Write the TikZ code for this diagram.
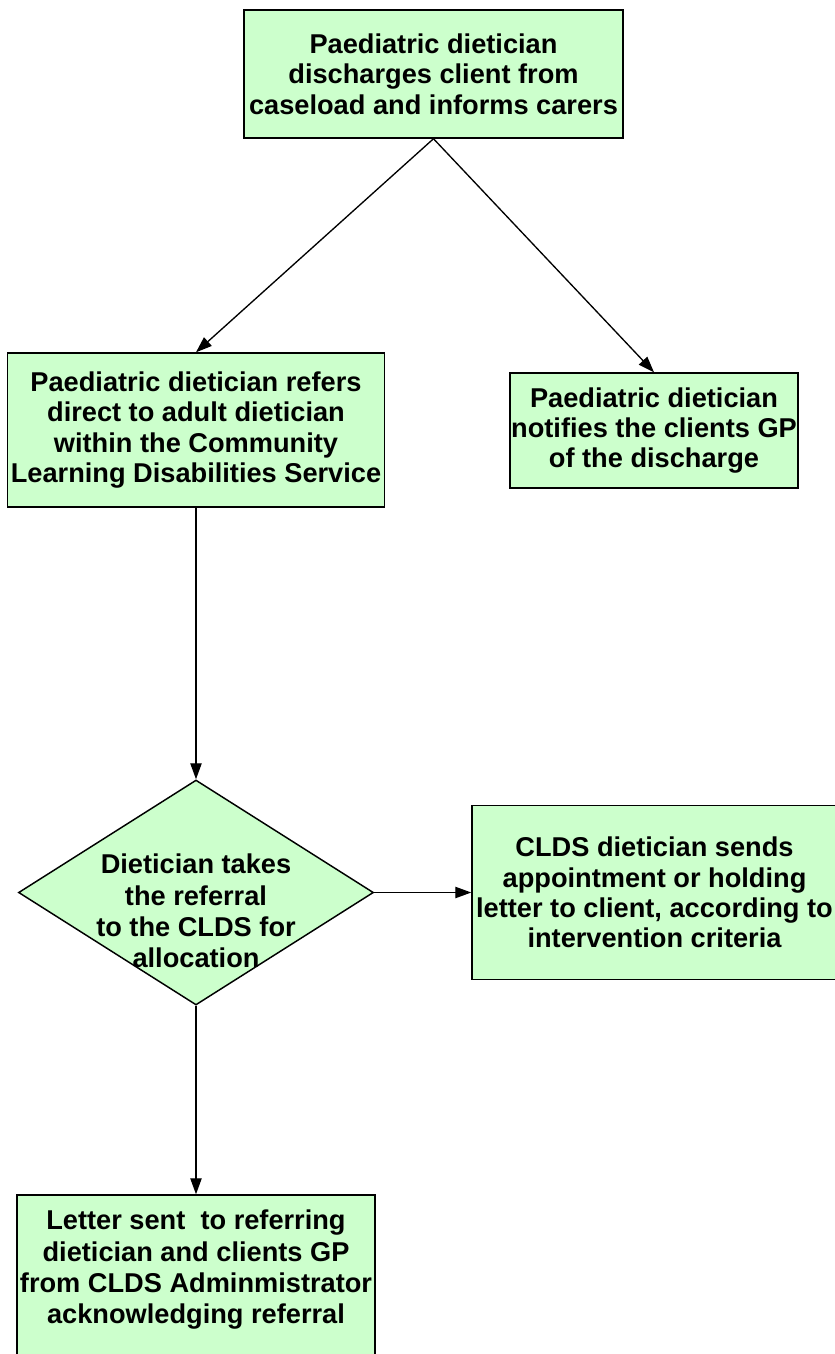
\documentclass[tikz,border=0pt]{standalone}
\usepackage{fontspec}
\setmainfont{Liberation Sans}
\usetikzlibrary{shapes.geometric,arrows.meta}
\definecolor{boxfill}{HTML}{CCFFCC}
\tikzset{
  box/.style={draw=black, line width=1.1pt, fill=boxfill, rectangle, inner sep=0pt, align=center,
    font=\fontsize{20.4pt}{22.8pt}\selectfont\bfseries},
  dia/.style={draw=black, line width=1.1pt, fill=boxfill, diamond, inner sep=0pt},
  txt/.style={align=center, inner sep=0pt, font=\fontsize{20.4pt}{23.5pt}\selectfont\bfseries},
  conn/.style={draw=black, line width=1pt, -{Triangle[length=12pt,width=8.5pt]}}
}
\begin{document}
\begin{tikzpicture}[x=0.75pt,y=-0.75pt]
\path[use as bounding box, clip] (0,0) rectangle (835,1354);
\fill[white] (0,0) rectangle (835,1354);
\node[box, minimum width=284.25pt, minimum height=96pt] (top) at (433.5,74)
  {Paediatric dietician\\discharges client from\\caseload and informs carers};
\node[box, minimum width=282.75pt, minimum height=115.5pt] (left) at (196,430)
  {Paediatric dietician refers\\direct to adult dietician\\within the Community\\Learning Disabilities Service};
\node[box, minimum width=216pt, minimum height=86.25pt] (right) at (654,430.5)
  {Paediatric dietician\\notifies the clients GP\\of the discharge};
\node[dia, minimum width=266.25pt, minimum height=168.75pt] (dec) at (196,892.5) {};
\node[txt] (dectext) at (196,911) {Dietician takes\\the referral\\to the CLDS for\\allocation};
\node[box, minimum width=273.75pt, minimum height=130.5pt] (clds) at (654.5,892.5)
  {CLDS dietician sends\\appointment or holding\\letter to client, according to\\intervention criteria};
\node[box, minimum width=268.5pt, minimum height=127.5pt] (letter) at (196,1280) {};
\node[txt] (lettertext) at (196,1270)
  {Letter sent\ \ to referring\\dietician and clients GP\\from CLDS Adminmistrator\\acknowledging referral};
\draw[conn] (top.south) -- (left.north);
\draw[conn] (top.south) -- (right.north);
\draw[conn] (left.south) -- (dec.north);
\draw[conn] (dec.east) -- (clds.west);
\draw[conn] (dec.south) -- (letter.north);
\end{tikzpicture}
\end{document}
